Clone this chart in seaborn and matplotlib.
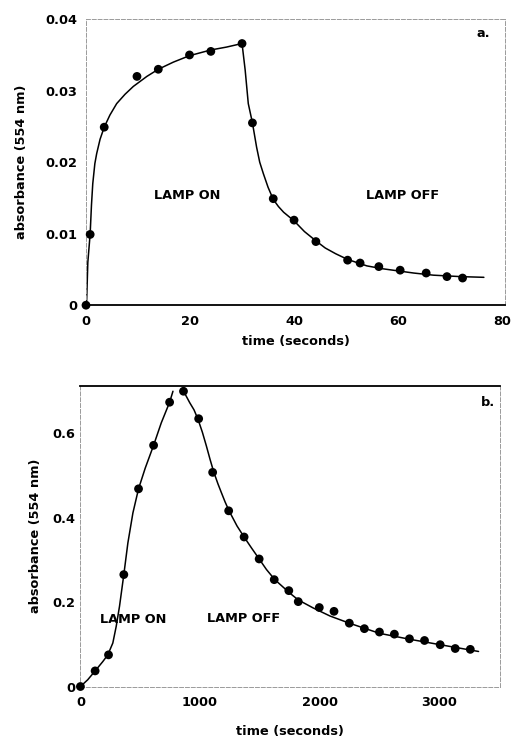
import matplotlib
matplotlib.use('Agg')
import matplotlib.pyplot as plt
import seaborn as sns

# panel a: measured points (seconds, absorbance)
t_a = [0, 0.8, 3.5, 9.8, 13.9, 19.9, 24.0, 30.0, 32.0, 36.0, 40.0, 44.2,
       50.3, 52.7, 56.3, 60.4, 65.4, 69.4, 72.4]
abs_a = [0, 0.0099, 0.0249, 0.0320, 0.0330, 0.0350, 0.0355, 0.0366, 0.0255,
         0.0149, 0.0119, 0.0089, 0.0063, 0.0059, 0.0054, 0.0049, 0.0045,
         0.0040, 0.0038]

# panel a: fitted curve
fit_t_a = [0, 0.1, 0.35, 0.8, 1.05, 1.3, 1.7, 2.05, 2.7, 3.5, 4.6, 5.9, 7.5,
           9.1, 11.7, 13.9, 16.8, 19.9, 24.0, 27.0, 30.0, 30.6, 31.2, 32.0,
           32.8, 33.4, 34.1, 35.0, 36.0, 37.0, 38.0, 40.0, 42.0, 44.2, 46.0,
           48.0, 50.3, 54.0, 57.0, 60.0, 63.0, 66.8, 72.0, 76.5]
fit_abs_a = [0, 0.0, 0.006, 0.0100, 0.0140, 0.0170, 0.0198, 0.0212, 0.0232,
             0.0249, 0.0266, 0.0282, 0.0295, 0.0306, 0.0320, 0.0330, 0.0340,
             0.0349, 0.0357, 0.0361, 0.0366, 0.0329, 0.0282, 0.0255, 0.0221,
             0.0200, 0.0184, 0.0165, 0.0148, 0.0138, 0.0130, 0.0118, 0.0103,
             0.0090, 0.0080, 0.0072, 0.0064, 0.0055, 0.0051, 0.0048, 0.0045,
             0.0042, 0.0040, 0.0039]

# panel b: measured points
t_b = [0, 123, 235, 363, 486, 612, 746, 862, 989, 1106, 1240, 1369, 1495,
       1621, 1743, 1822, 1998, 2121, 2249, 2375, 2501, 2626, 2752, 2878,
       3009, 3135, 3261]
abs_b = [0, 0.037, 0.075, 0.265, 0.468, 0.571, 0.673, 0.699, 0.634, 0.507,
         0.416, 0.354, 0.302, 0.253, 0.227, 0.201, 0.187, 0.178, 0.150, 0.137,
         0.129, 0.124, 0.113, 0.109, 0.099, 0.090, 0.088]

# panel b: fitted curves (lamp on / lamp off)
fit_on_t = [0, 61, 123, 187, 229, 271, 299, 327, 363, 397, 439, 486, 542,
            612, 676, 746, 774]
fit_on_abs = [0, 0.016, 0.037, 0.059, 0.075, 0.103, 0.142, 0.190, 0.265,
              0.340, 0.411, 0.468, 0.517, 0.571, 0.624, 0.673, 0.699]
fit_off_t = [863, 914, 950, 983, 1020, 1053, 1085, 1115, 1150, 1179, 1210,
             1243, 1310, 1369, 1431, 1495, 1556, 1626, 1752, 1822, 1947, 2087,
             2249, 2501, 2752, 3009, 3330]
fit_off_abs = [0.699, 0.672, 0.655, 0.633, 0.602, 0.570, 0.537, 0.508, 0.480,
               0.459, 0.437, 0.416, 0.380, 0.354, 0.328, 0.302, 0.277, 0.253,
               0.221, 0.205, 0.186, 0.167, 0.150, 0.126, 0.112, 0.099, 0.083]

xticks_a = [0, 20, 40, 60, 80]
yticks_a = [0, 0.01, 0.02, 0.03, 0.04]
ytick_labels_a = ['0', '0.01', '0.02', '0.03', '0.04']
xticks_b = [0, 1000, 2000, 3000]
yticks_b = [0, 0.2, 0.4, 0.6]
ytick_labels_b = ['0', '0.2', '0.4', '0.6']

sns.set_style('white')
plt.rcParams['font.family'] = ['DejaVu Sans']
plt.rcParams['font.weight'] = 'bold'
for key in ['text.color', 'axes.labelcolor', 'xtick.color', 'ytick.color']:
    plt.rcParams[key] = 'black'
FS = 9.3

fig = plt.figure(figsize=(5.15, 7.39), dpi=100)
ax_a = fig.add_axes([0.167, 0.587, 0.814, 0.387])
ax_b = fig.add_axes([0.155, 0.071, 0.816, 0.407])

dot = dict(color='black', s=40, edgecolor='none', zorder=3, clip_on=False)
line = dict(color='black', linewidth=1.1, estimator=None)

# --- panel a
sns.lineplot(x=fit_t_a, y=fit_abs_a, ax=ax_a, **line)
sns.scatterplot(x=t_a, y=abs_a, ax=ax_a, **dot)
ax_a.set_xlim(0, 80.6)
ax_a.set_ylim(0, 0.04)
ax_a.set_xticks(xticks_a)
ax_a.set_yticks(yticks_a)
ax_a.set_yticklabels(ytick_labels_a)
ax_a.tick_params(axis='x', length=0, pad=7, labelsize=FS)
ax_a.tick_params(axis='y', length=0, pad=6.5, labelsize=FS)
ax_a.set_xlabel('time (seconds)', fontsize=FS, fontweight='bold', labelpad=5)
ax_a.set_ylabel('absorbance (554 nm)', fontsize=FS, fontweight='bold', labelpad=12)
ax_a.text(19.4, 0.0154, 'LAMP ON', ha='center', va='center', fontsize=FS, fontweight='bold')
ax_a.text(60.9, 0.0153, 'LAMP OFF', ha='center', va='center', fontsize=FS, fontweight='bold')
ax_a.text(0.947, 0.951, 'a.', transform=ax_a.transAxes, ha='center', va='center',
          fontsize=FS, fontweight='bold')
for side in ['top', 'right', 'left']:
    ax_a.spines[side].set_color('#9a9a9a')
    ax_a.spines[side].set_linewidth(0.7)
    ax_a.spines[side].set_linestyle((0, (4, 2)))
ax_a.spines['bottom'].set_color('black')
ax_a.spines['bottom'].set_linewidth(1.3)

# --- panel b
sns.lineplot(x=fit_on_t, y=fit_on_abs, ax=ax_b, **line)
sns.lineplot(x=fit_off_t, y=fit_off_abs, ax=ax_b, **line)
sns.scatterplot(x=t_b, y=abs_b, ax=ax_b, **dot)
ax_b.set_xlim(-5, 3510)
ax_b.set_ylim(0, 0.712)
ax_b.set_xticks(xticks_b)
ax_b.set_yticks(yticks_b)
ax_b.set_yticklabels(ytick_labels_b)
ax_b.tick_params(axis='x', length=0, pad=7, labelsize=FS)
ax_b.tick_params(axis='y', length=0, pad=3, labelsize=FS)
ax_b.set_xlabel('time (seconds)', fontsize=FS, fontweight='bold', labelpad=11)
ax_b.set_ylabel('absorbance (554 nm)', fontsize=FS, fontweight='bold', labelpad=8)
ax_b.text(438, 0.158, 'LAMP ON', ha='center', va='center', fontsize=FS, fontweight='bold')
ax_b.text(1361, 0.160, 'LAMP OFF', ha='center', va='center', fontsize=FS, fontweight='bold')
ax_b.text(0.972, 0.943, 'b.', transform=ax_b.transAxes, ha='center', va='center',
          fontsize=FS, fontweight='bold')
for side in ['bottom', 'right', 'left']:
    ax_b.spines[side].set_color('#9a9a9a')
    ax_b.spines[side].set_linewidth(0.7)
    ax_b.spines[side].set_linestyle((0, (4, 2)))
ax_b.spines['top'].set_color('black')
ax_b.spines['top'].set_linewidth(1.3)

fig.savefig('out.png', dpi=100)
